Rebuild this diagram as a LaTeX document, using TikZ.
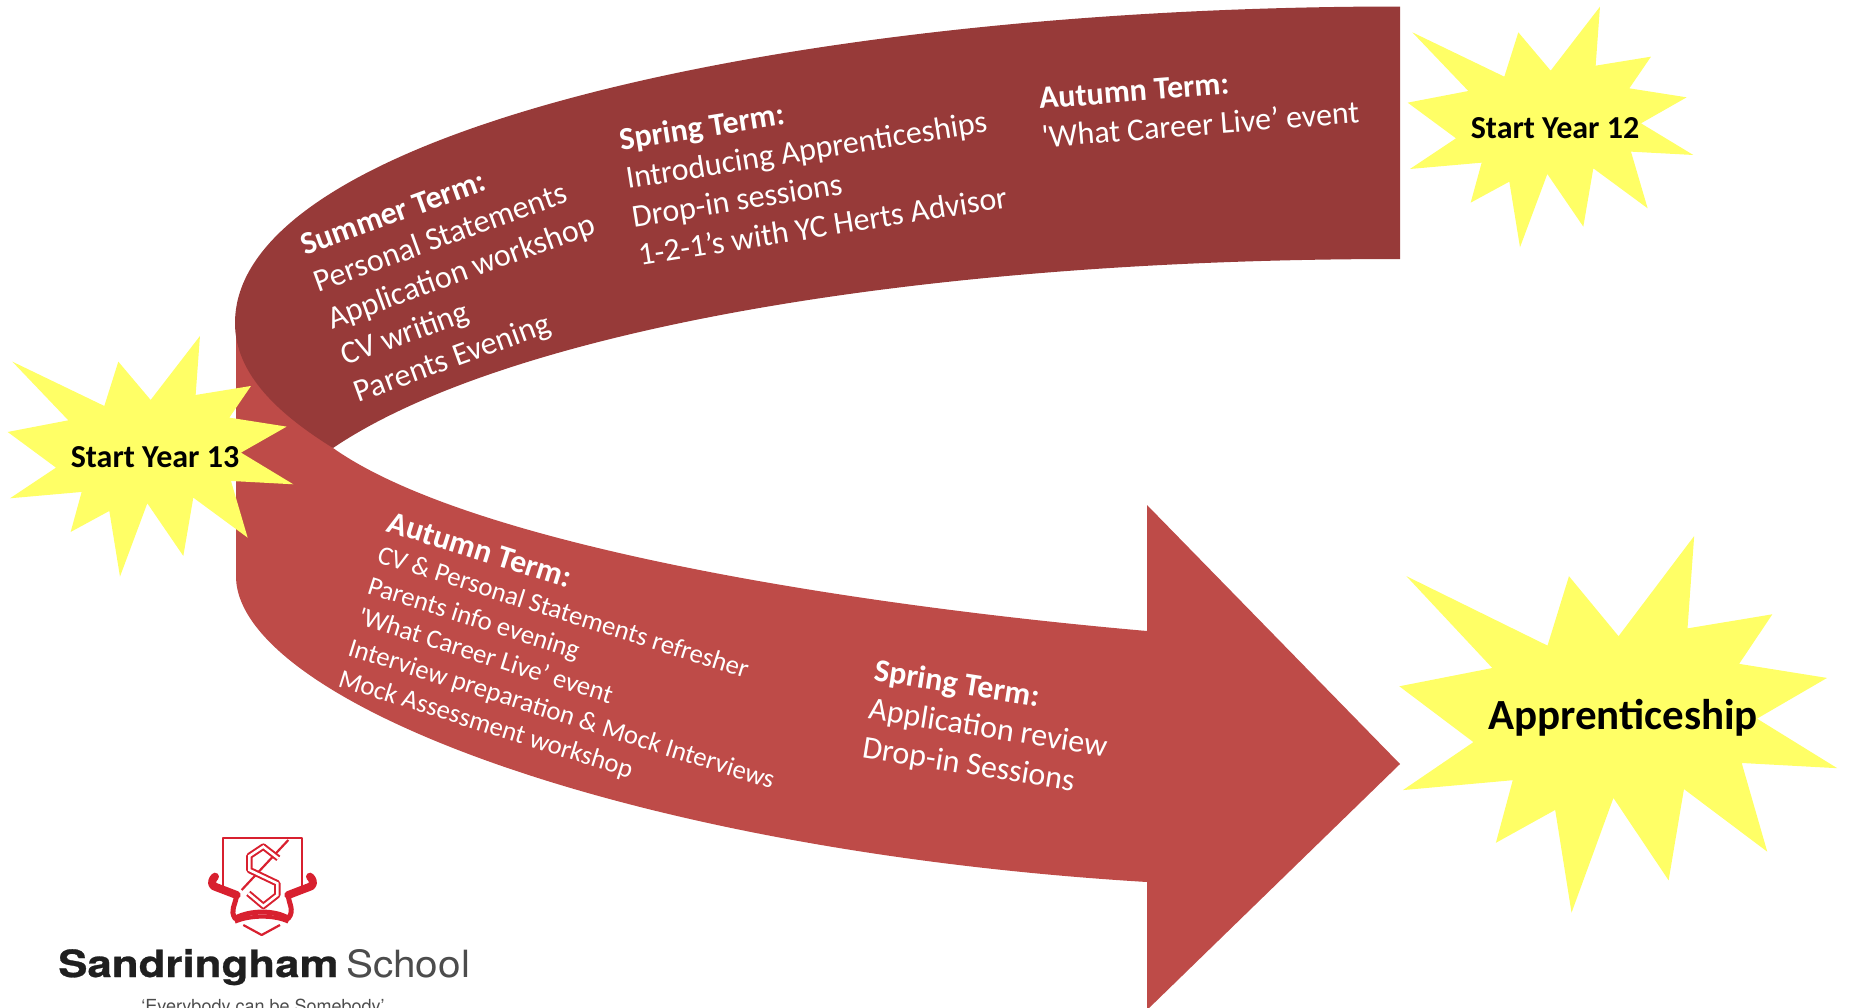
\documentclass[tikz,border=0pt]{standalone}
\usepackage{fontspec}
\newfontfamily\termfont{Carlito}
\newfontfamily\logofont[FakeStretch=1.17, BoldFeatures={FakeBold=0.7}]{TeX Gyre Heros}
\newfontfamily\schoolfont[FakeStretch=1.08]{TeX Gyre Heros}
\newfontfamily\mottofont{TeX Gyre Heros}
\usepackage{tikz}
\definecolor{darkband}{HTML}{973A39}
\definecolor{lightband}{HTML}{BE4B48}
\definecolor{burstyellow}{HTML}{FFFF66}
\definecolor{crestred}{HTML}{D8202F}
\tikzstyle{burst} = [fill=burstyellow]
\tikzstyle{burstlabel} = [inner sep=0pt, text=black, font=\termfont\fontsize{32}{38}\selectfont\bfseries]
\tikzstyle{term} = [inner sep=0pt, anchor=north west, align=left, text=white, font=\termfont\fontsize{32}{39}\selectfont]
\tikzstyle{crestline} = [draw=crestred, line width=2.2pt, line join=round]
\newcommand{\burstshape}[4]{\fill[burst, shift={(#1,#2)}, xscale=#3, yscale=#4]
    (660,20) -- (647,197) -- (813,170) -- (748,265) -- (920,292) -- (783,370)
    -- (940,465) -- (753,455) -- (803,625) -- (640,505) -- (610,680) -- (502,522)
    -- (420,742) -- (388,545) -- (272,608) -- (305,488) -- (90,507) -- (228,415)
    -- (83,308) -- (265,273) -- (97,97) -- (373,230) -- (415,97) -- (512,212) -- cycle;}

\begin{document}
\begin{tikzpicture}[x=1pt,y=-1pt]
    \clip (0,0) rectangle (1849,1007);
    % lower band with the arrow head
    \fill[lightband] (236,325) -- (236,578)
        .. controls (240,700) and (620,850) .. (1147,882)
        -- (1147,1010) -- (1400,764) -- (1147,505) -- (1147,631)
        .. controls (850,605) and (470,545) .. (333,448)
        -- (287,410) -- cycle;
    % upper band
    \fill[darkband] (1400,6.5)
        .. controls (800,6.5) and (235,130) .. (235,323)
        .. controls (235,375) and (280,415) .. (333,448)
        .. controls (500,335) and (900,259) .. (1400,259)
        -- cycle;
    \node[term, rotate=20] (summer) at (298,236) {\textbf{Summer Term:}\\Personal Statements\\Application workshop\\CV writing\\Parents Evening};
    \node[term, rotate=9] (spring) at (618,128) {\textbf{Spring Term:}\\Introducing Apprenticeships\\Drop-in sessions\\1-2-1’s with YC Herts Advisor};
    \node[term, rotate=4.5] (autumn) at (1038,88) {\textbf{Autumn Term:}\\'What Career Live’ event};
    \node[term, rotate=-17.5, font=\termfont\fontsize{26.7}{32.5}\selectfont] (autumnlow) at (392,511) {{\fontsize{32}{32.5}\selectfont\textbf{Autumn Term:}}\\CV \& Personal Statements refresher\\Parents info evening\\'What Career Live’ event\\Interview preparation \& Mock Interviews\\Mock Assessment workshop};
    \node[term, rotate=-9] (springlow) at (877,658) {\textbf{Spring Term:}\\Application review\\Drop-in Sessions};
    % bursts
    \burstshape{1380}{0}{.3333}{.3333}
    \burstshape{-20}{329.3}{.3333}{.3333}
    \burstshape{1356.9}{525.6}{.511}{.5217}
    \node[burstlabel] (year12) at (1555,128) {Start Year 12};
    \node[burstlabel] (year13) at (155,457) {Start Year 13};
    \node[burstlabel, font=\termfont\fontsize{43}{50}\selectfont\bfseries] (apprentice) at (1623,718) {Apprenticeship};
    % crest
    \begin{scope}[shift={(200,830)}, x=.3333pt, y=-.3333pt]
        \draw[crestline] (70,170) -- (70,25) -- (305,25) -- (305,170);
        \draw[crestline] (70,170) -- (110,205) (305,170) -- (265,205);
        \draw[crestline] (265,30) -- (125,180);
        \draw[crestline, line width=6.5pt] (235,85) -- (190,50) -- (148,78) -- (148,120) -- (232,160) -- (232,195) -- (190,228) -- (145,190);
        \draw[white, line width=2.5pt] (235,85) -- (190,50) -- (148,78) -- (148,120) -- (232,160) -- (232,195) -- (190,228) -- (145,190);
        \draw[crestline, line width=8pt, line cap=round] (45,140) .. controls (30,155) and (35,170) .. (50,172) -- (110,195);
        \draw[crestline, line width=8pt, line cap=round] (330,140) .. controls (345,155) and (340,170) .. (325,172) -- (265,195);
        \draw[crestline, line width=5pt] (110,195) .. controls (105,230) and (90,240) .. (105,265) .. controls (150,240) and (225,240) .. (265,265) .. controls (285,240) and (265,220) .. (265,195);
        \draw[crestline, line width=4pt] (105,275) .. controls (150,255) and (225,255) .. (265,275);
        \draw[crestline] (130,285) -- (185,315) -- (240,285);
    \end{scope}
    % logo text
    \node[inner sep=0pt, anchor=base west, text=black!88, font=\fontsize{37.5}{40}\logofont\bfseries] (sandringham) at (58,977) {Sandringham};
    \node[inner sep=0pt, anchor=base west, text=black!70, font=\fontsize{37.5}{40}\schoolfont] (school) at (346,977) {School};
    \node[inner sep=0pt, anchor=base, text=black!70, font=\fontsize{18}{22}\mottofont] (motto) at (263,1012) {‘Everybody can be Somebody’};
\end{tikzpicture}
\end{document}
